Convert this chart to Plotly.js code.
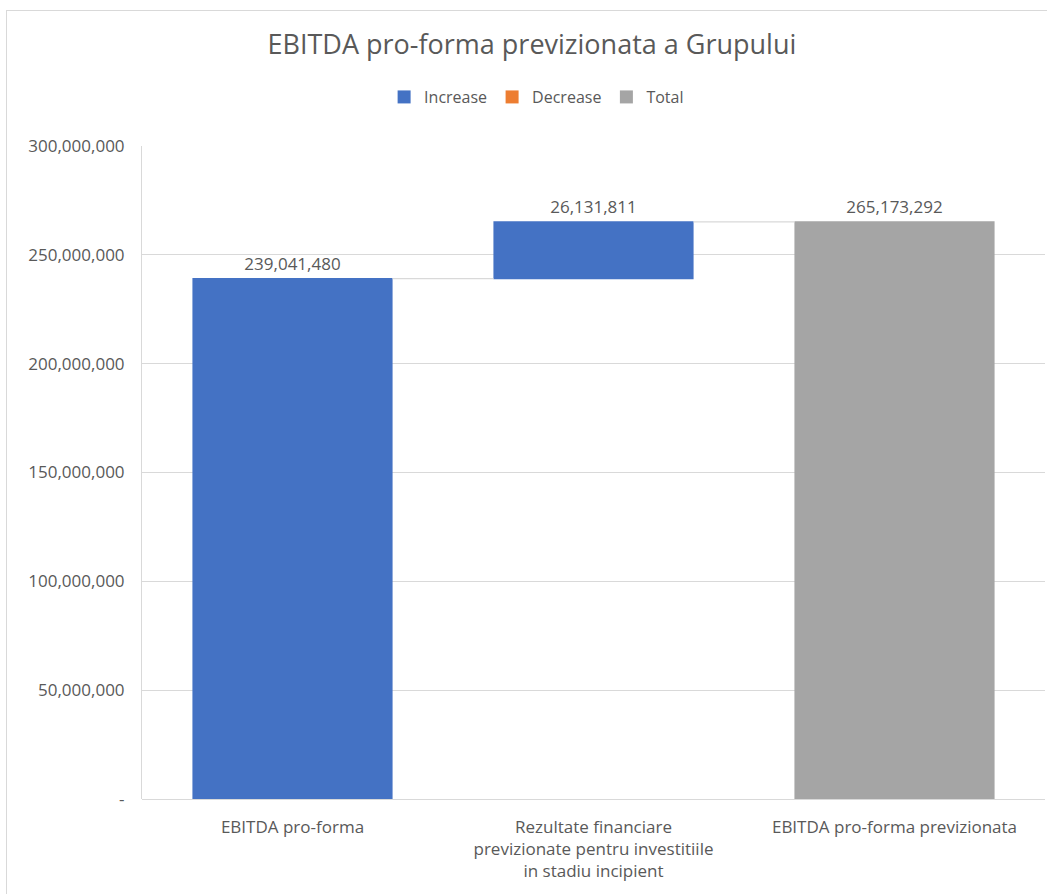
<!DOCTYPE html>
<html>
<head>
<meta charset="utf-8">
<script src="https://cdn.plot.ly/plotly-3.0.1.min.js"></script>
<style>
  html, body { margin: 0; padding: 0; background: #fff; }
  #wrap { position: relative; width: 1047px; height: 894px; overflow: hidden; }
  #chart { position: absolute; left: 0; top: 0; width: 1047px; height: 894px; }
  #frame { position: absolute; left: 6px; top: 10px; width: 1100px; height: 1000px; border: 1px solid #d9d9d9; pointer-events: none; }
</style>
</head>
<body>
<div id="wrap">
  <div id="chart"></div>
  <div id="frame"></div>
</div>
<script>
const categories = [
  "EBITDA pro-forma",
  "Rezultate financiare<br>previzionate pentru investitiile<br>in stadiu incipient",
  "EBITDA pro-forma previzionata"
];
const values = [239041480, 26131811, 0];
const measures = ["relative", "relative", "total"];
const dataLabels = ["239,041,480", "26,131,811", "265,173,292"];
const legendNames = ["Increase", "Decrease", "Total"];
const legendColors = ["#4472C4", "#ED7D31", "#A5A5A5"];
const yTickVals = [0, 50000000, 100000000, 150000000, 200000000, 250000000, 300000000];
const yTickText = ["-", "50,000,000", "100,000,000", "150,000,000", "200,000,000", "250,000,000", "300,000,000"];

const FONT = "Open Sans, sans-serif";
const TXT = "#595959";

const traces = [{
  type: "waterfall",
  x: categories,
  y: values,
  measure: measures,
  text: dataLabels,
  textinfo: "text",
  textposition: "outside",
  cliponaxis: false,
  textfont: { family: FONT, size: 17, color: TXT },
  increasing: { marker: { color: legendColors[0], line: { width: 0 } } },
  decreasing: { marker: { color: legendColors[1], line: { width: 0 } } },
  totals: { marker: { color: legendColors[2], line: { width: 0 } } },
  connector: { mode: "between", line: { color: "#d9d9d9", width: 1.2, dash: "solid" } },
  showlegend: false,
  hoverinfo: "skip"
}];
legendNames.forEach((n, i) => {
  traces.push({
    type: "scatter", mode: "markers", name: n,
    x: [null], y: [null],
    marker: { symbol: "square", size: 13, color: legendColors[i] },
    showlegend: true, hoverinfo: "skip"
  });
});

const layout = {
  width: 1047, height: 894,
  paper_bgcolor: "#ffffff", plot_bgcolor: "#ffffff",
  margin: { l: 142, r: 2, t: 146, b: 95 },
  font: { family: FONT, color: TXT, size: 16 },
  title: {
    text: "EBITDA pro-forma previzionata a Grupului",
    font: { family: FONT, size: 27, color: TXT },
    x: 0.508, xanchor: "center", xref: "container",
    y: 0.95, yanchor: "middle", yref: "container"
  },
  showlegend: true,
  legend: {
    orientation: "h", x: 0.437, xanchor: "center", xref: "paper",
    y: 1.075, yanchor: "middle", yref: "paper",
    font: { family: FONT, size: 16, color: TXT },
    itemwidth: 30, tracegroupgap: 0, bgcolor: "rgba(0,0,0,0)"
  },
  waterfallgap: 0.335,
  xaxis: {
    type: "category",
    showgrid: false, zeroline: false,
    showline: false,
    ticks: "", ticklabelstandoff: 16,
    tickfont: { family: FONT, size: 17, color: TXT },
    fixedrange: true
  },
  yaxis: {
    range: [0, 300000000],
    tickvals: yTickVals, ticktext: yTickText,
    showgrid: true, gridcolor: "#d9d9d9", gridwidth: 1,
    zeroline: true, zerolinecolor: "#d9d9d9", zerolinewidth: 1,
    showline: true, linecolor: "#d9d9d9", linewidth: 1,
    ticks: "", ticklabelstandoff: 13,
    tickfont: { family: FONT, size: 17, color: TXT },
    fixedrange: true
  }
};

Plotly.newPlot("chart", traces, layout, { displayModeBar: false, staticPlot: true });
</script>
</body>
</html>
